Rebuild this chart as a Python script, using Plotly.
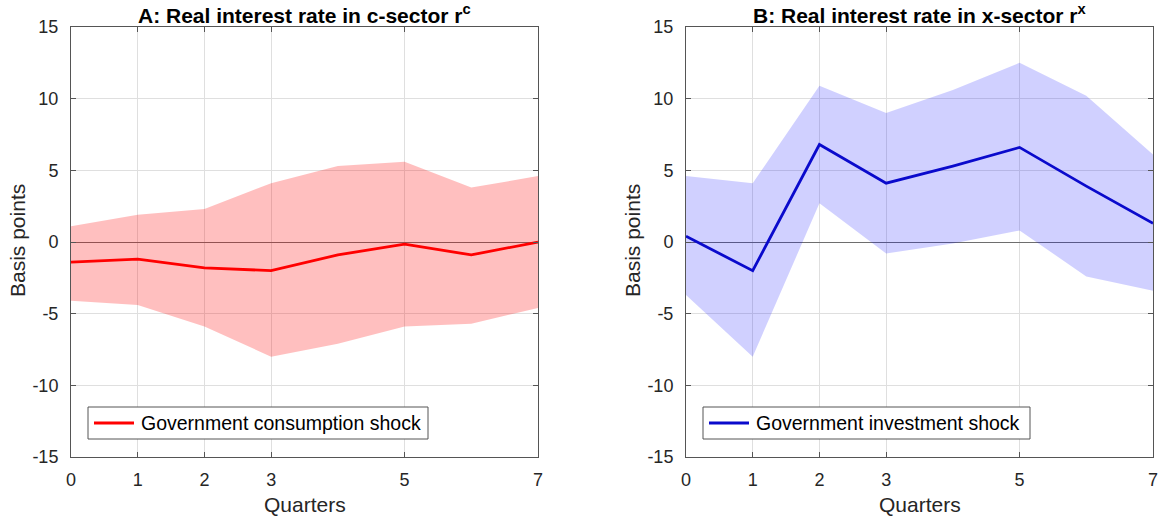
import plotly.graph_objects as go

quarters = [0, 1, 2, 3, 4, 5, 6, 7]
x_tick_vals = [0, 1, 2, 3, 5, 7]
y_tick_vals = [-15, -10, -5, 0, 5, 10, 15]
y_tick_text = ["-15", "-10", "-5", "0", "5", "10", "15"]

# Panel A: government consumption shock, real interest rate in c-sector
c_median = [-1.4, -1.2, -1.8, -2.0, -0.9, -0.15, -0.9, 0.0]
c_upper = [1.1, 1.9, 2.3, 4.1, 5.3, 5.6, 3.8, 4.6]
c_lower = [-4.1, -4.4, -5.9, -8.0, -7.1, -5.9, -5.7, -4.6]

# Panel B: government investment shock, real interest rate in x-sector
x_median = [0.4, -2.0, 6.8, 4.1, 5.3, 6.6, 3.9, 1.3]
x_upper = [4.6, 4.1, 10.9, 9.0, 10.6, 12.5, 10.2, 6.1]
x_lower = [-3.7, -8.0, 2.7, -0.8, -0.1, 0.8, -2.4, -3.4]

titles = ["<b>A: Real interest rate in c-sector r<sup>c</sup></b>",
          "<b>B: Real interest rate in x-sector r<sup>x</sup></b>"]
legend_names = ["Government consumption shock", "Government investment shock"]

W, H = 1164, 521
FONT = "Liberation Sans, Arial, sans-serif"
TXT = "#262626"
AXC = "#555555"

fig = go.Figure()

line_colors = ["#ff0000", "#0a0acc"]
panels = [
    (c_median, c_upper, c_lower, line_colors[0], "rgba(255,0,0,0.25)", "x", "y"),
    (x_median, x_upper, x_lower, line_colors[1], "rgba(0,0,255,0.185)", "x2", "y2"),
]
for i, (med, up, lo, lc, fc, xa, ya) in enumerate(panels):
    fig.add_trace(go.Scatter(
        x=quarters + quarters[::-1], y=up + lo[::-1], fill="toself",
        fillcolor=fc, line=dict(width=0), mode="lines", showlegend=False,
        xaxis=xa, yaxis=ya, hoverinfo="skip"))
    fig.add_trace(go.Scatter(
        x=quarters, y=med, mode="lines", line=dict(color=lc, width=2.8),
        name=legend_names[i], xaxis=xa, yaxis=ya, showlegend=False))

# plot area pixel bounds
py_top, py_bot = 27, 457
panels_px = [(71, 538), (686, 1153)]
ydom = [1 - py_bot / H, 1 - py_top / H]

axis_common = dict(
    showline=True, linecolor=AXC, linewidth=1, mirror="allticks",
    ticks="inside", ticklen=5, tickcolor=AXC,
    showgrid=True, gridcolor="#dfdfdf", gridwidth=1, automargin=False,
    tickfont=dict(family=FONT, size=18, color=TXT),
)

layout = dict(
    width=W, height=H, margin=dict(l=0, r=0, t=0, b=0, autoexpand=False),
    plot_bgcolor="white", paper_bgcolor="white",
    font=dict(family=FONT, color=TXT), showlegend=False,
)
for i, (x0, x1) in enumerate(panels_px):
    sfx = "" if i == 0 else "2"
    layout["xaxis" + sfx] = dict(
        domain=[x0 / W, x1 / W], range=[0, 7], tickvals=x_tick_vals,
        zeroline=False, anchor="y" + sfx, ticklabelstandoff=6, **axis_common)
    layout["yaxis" + sfx] = dict(
        domain=ydom, range=[-15, 15], tickvals=y_tick_vals, ticktext=y_tick_text,
        zeroline=True, zerolinecolor="#6e6e6e", zerolinewidth=1,
        anchor="x" + sfx, ticklabelstandoff=8, **axis_common)

fig.update_layout(**layout)

annotations = []
shapes = []
legend_boxes = [(88, 428), (703, 1030)]
leg_top, leg_bot = 407, 439
for i, (x0, x1) in enumerate(panels_px):
    cx = (x0 + x1) / 2 / W
    annotations.append(dict(
        text=titles[i], x=cx, y=1 - 14 / H, xref="paper", yref="paper",
        xanchor="center", yanchor="middle", showarrow=False,
        font=dict(family=FONT, size=21, color="#000000")))
    annotations.append(dict(
        text="Quarters", x=cx, y=1 - 504 / H, xref="paper", yref="paper",
        xanchor="center", yanchor="middle", showarrow=False,
        font=dict(family=FONT, size=21, color=TXT)))
    annotations.append(dict(
        text="Basis points", x=(x0 - 53) / W, y=1 - 241 / H,
        xref="paper", yref="paper", xanchor="center", yanchor="middle",
        textangle=-90, showarrow=False,
        font=dict(family=FONT, size=21, color=TXT)))
    # legend box
    lx0, lx1 = legend_boxes[i]
    shapes.append(dict(
        type="rect", xref="paper", yref="paper",
        x0=lx0 / W, x1=lx1 / W, y0=1 - leg_bot / H, y1=1 - leg_top / H,
        fillcolor="white", line=dict(color=AXC, width=1), layer="above"))
    ly = 1 - (leg_top + leg_bot) / 2 / H
    shapes.append(dict(
        type="line", xref="paper", yref="paper",
        x0=(lx0 + 6) / W, x1=(lx0 + 46) / W, y0=ly, y1=ly,
        line=dict(color=line_colors[i], width=2.8), layer="above"))
    annotations.append(dict(
        text=legend_names[i], x=(lx0 + 51) / W, y=ly, xref="paper", yref="paper",
        xanchor="left", yanchor="middle", showarrow=False,
        font=dict(family=FONT, size=19.5, color="#000000")))
fig.update_layout(annotations=annotations, shapes=shapes)

fig.write_html(
    "out.html",
    config={"displayModeBar": False},
    post_script="document.body.style.margin='0';document.body.style.overflow='hidden';",
)
